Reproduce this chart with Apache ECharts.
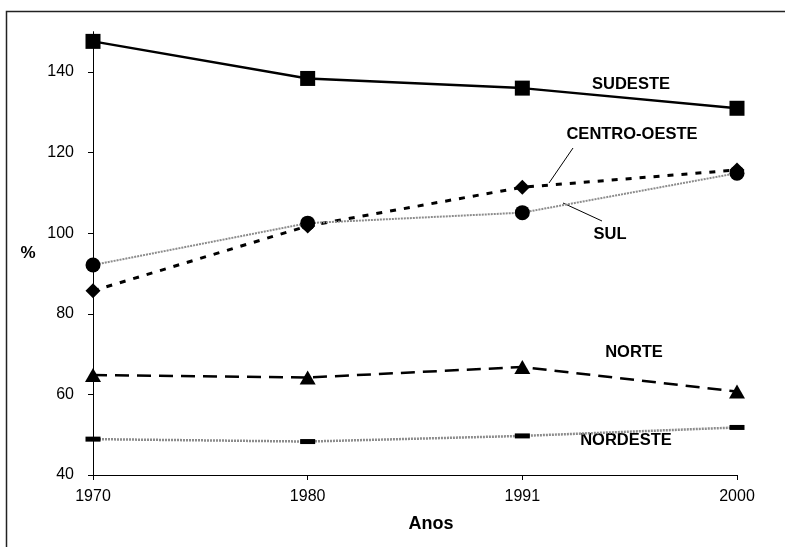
<!DOCTYPE html>
<html>
<head>
<meta charset="utf-8">
<script src="https://cdn.jsdelivr.net/npm/echarts@6/dist/echarts.min.js"></script>
<style>
html, body { margin: 0; padding: 0; background: #fff; }
#main { width: 785px; height: 547px; }
</style>
</head>
<body>
<div id="main"></div>
<script>
// anos (eixo x)
var anos = ['1970', '1980', '1991', '2000'];
var yTicks = [40, 60, 80, 100, 120, 140];

// valores por regiao (%)
var sudeste = [147.6, 138.4, 136.0, 131.0];
var centroOeste = [85.7, 101.8, 111.4, 115.7];
var sul = [92.1, 102.5, 105.1, 114.9];
var norte = [64.8, 64.2, 66.8, 60.7];
var nordeste = [48.9, 48.3, 49.7, 51.8];

var myChart = echarts.init(document.getElementById('main'));
var font = 'Liberation Sans, Arial, sans-serif';

// rotulo centrado em (x, y)
function label(text, x, y, size) {
	return {
		type: 'text', x: x, y: y,
		style: { text: text, font: 'bold ' + (size || 16.5) + 'px ' + font, fill: '#000', align: 'center', verticalAlign: 'middle' }
	};
}

var option = {
	animation: false,
	backgroundColor: '#fff',
	grid: { left: 93, right: 48, top: 31.7, bottom: 72 },
	xAxis: {
		type: 'category',
		data: anos,
		boundaryGap: false,
		axisLine: { lineStyle: { color: '#000', width: 1 } },
		axisTick: { show: true, length: 5, lineStyle: { color: '#000' } },
		axisLabel: { fontFamily: font, fontSize: 16, color: '#000', margin: 14 },
		splitLine: { show: false }
	},
	yAxis: {
		type: 'value',
		min: 40, max: 150, interval: 20,
		axisLine: { show: true, lineStyle: { color: '#000', width: 1 } },
		axisTick: { show: true, length: 5, lineStyle: { color: '#000' }, customValues: yTicks },
		axisLabel: { fontFamily: font, fontSize: 16, color: '#000', margin: 19, customValues: yTicks },
		splitLine: { show: false }
	},
	series: [
		{
			name: 'SUDESTE', type: 'line', data: sudeste,
			symbol: 'rect', symbolSize: 15,
			itemStyle: { color: '#000' },
			lineStyle: { color: '#000', width: 2.5 }
		},
		{
			name: 'CENTRO-OESTE', type: 'line', data: centroOeste,
			symbol: 'diamond', symbolSize: 15,
			itemStyle: { color: '#000' },
			lineStyle: { color: '#000', width: 3, type: [6, 8] }
		},
		{
			name: 'SUL', type: 'line', data: sul,
			symbol: 'circle', symbolSize: 15,
			itemStyle: { color: '#000' },
			lineStyle: { color: '#8c8c8c', width: 2, type: [2, 1] }
		},
		{
			name: 'NORTE', type: 'line', data: norte,
			symbol: 'triangle', symbolSize: [16, 14],
			itemStyle: { color: '#000' },
			lineStyle: { color: '#000', width: 2.5, type: [14, 8] }
		},
		{
			name: 'NORDESTE', type: 'line', data: nordeste,
			symbol: 'rect', symbolSize: [15, 5],
			itemStyle: { color: '#000' },
			lineStyle: { color: '#8c8c8c', width: 2.5, type: [2, 1] }
		}
	],
	graphic: [
		{
			type: 'rect', left: 4, top: 9, silent: true,
			shape: { width: 900, height: 700 },
			style: { fill: null, stroke: '#222', lineWidth: 1.5 }
		},
		label('%', 28, 253, 17),
		label('Anos', 431, 524, 18),
		label('SUDESTE', 631, 84),
		label('CENTRO-OESTE', 632, 134),
		label('SUL', 610, 234),
		label('NORTE', 634, 352),
		label('NORDESTE', 626, 440),
		{
			type: 'line', shape: { x1: 573, y1: 148, x2: 549, y2: 183 },
			style: { stroke: '#000', lineWidth: 1 }
		},
		{
			type: 'line', shape: { x1: 563, y1: 203, x2: 602, y2: 221 },
			style: { stroke: '#000', lineWidth: 1 }
		}
	]
};

myChart.setOption(option);
</script>
</body>
</html>
